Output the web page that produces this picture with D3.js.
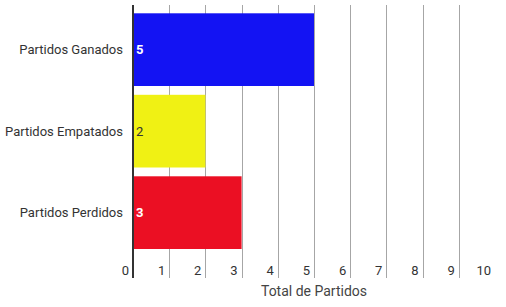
<!DOCTYPE html>
<html>
<head>
<meta charset="utf-8">
<script src="https://cdn.jsdelivr.net/npm/d3@7"></script>
<style>
  body { margin: 0; background: #fff; }
  text { font-family: Roboto, "Noto Sans", sans-serif; }
</style>
</head>
<body>
<svg width="506" height="307"></svg>
<script>
const categories = ["Partidos Ganados", "Partidos Empatados", "Partidos Perdidos"];
const values = [5, 2, 3];
const barColors = ["#1313f3", "#f0f114", "#eb0f23"];
const labelColors = ["#fff", "#333", "#fff"];
const labelWeights = ["bold", "normal", "bold"];
const xTicks = [0, 1, 2, 3, 4, 5, 6, 7, 8, 9, 10];
const axisTitle = "Total de Partidos";

const svg = d3.select("svg");

const x = d3.scaleLinear().domain([0, 10]).range([133, 495]);
const y = d3.scaleBand().domain(categories).range([4.5, 257.8])
  .paddingInner(0.108).paddingOuter(0.108);

// grid lines (behind bars)
svg.selectAll("line.grid")
  .data(xTicks.filter(d => d > 0 && d < 10))
  .enter()
  .append("line")
  .attr("class", "grid")
  .attr("x1", d => Math.round(x(d)) + 0.5)
  .attr("x2", d => Math.round(x(d)) + 0.5)
  .attr("y1", 5)
  .attr("y2", 278)
  .attr("stroke", "#a6a6a6")
  .attr("stroke-width", 1);

// bars
svg.selectAll("rect.bar")
  .data(values)
  .enter()
  .append("rect")
  .attr("class", "bar")
  .attr("x", x(0))
  .attr("y", (d, i) => y(categories[i]))
  .attr("width", d => x(d) - x(0))
  .attr("height", y.bandwidth())
  .attr("fill", (d, i) => barColors[i]);

// value labels
svg.selectAll("text.val")
  .data(values)
  .enter()
  .append("text")
  .attr("class", "val")
  .attr("x", x(0) + 3)
  .attr("y", (d, i) => y(categories[i]) + y.bandwidth() / 2 + 4.5)
  .attr("font-size", 13)
  .attr("font-weight", (d, i) => labelWeights[i])
  .attr("fill", (d, i) => labelColors[i])
  .text(d => d);

// category labels
svg.selectAll("text.cat")
  .data(categories)
  .enter()
  .append("text")
  .attr("class", "cat")
  .attr("x", 123)
  .attr("y", d => y(d) + y.bandwidth() / 2 + 4.5)
  .attr("text-anchor", "end")
  .attr("font-size", 13)
  .attr("fill", "#333")
  .text(d => d);

// baseline axis
svg.append("line")
  .attr("x1", x(0)).attr("x2", x(0))
  .attr("y1", 5).attr("y2", 278)
  .attr("stroke", "#333")
  .attr("stroke-width", 2);

// tick labels
svg.selectAll("text.tick")
  .data(xTicks)
  .enter()
  .append("text")
  .attr("class", "tick")
  .attr("x", d => x(d) - 4)
  .attr("y", 275)
  .attr("text-anchor", "end")
  .attr("font-size", 13)
  .attr("fill", "#333")
  .text(d => d);

// axis title
svg.append("text")
  .attr("x", (x(0) + x(10)) / 2)
  .attr("y", 296)
  .attr("text-anchor", "middle")
  .attr("font-size", 14)
  .attr("fill", "#444")
  .text(axisTitle);
</script>
</body>
</html>
